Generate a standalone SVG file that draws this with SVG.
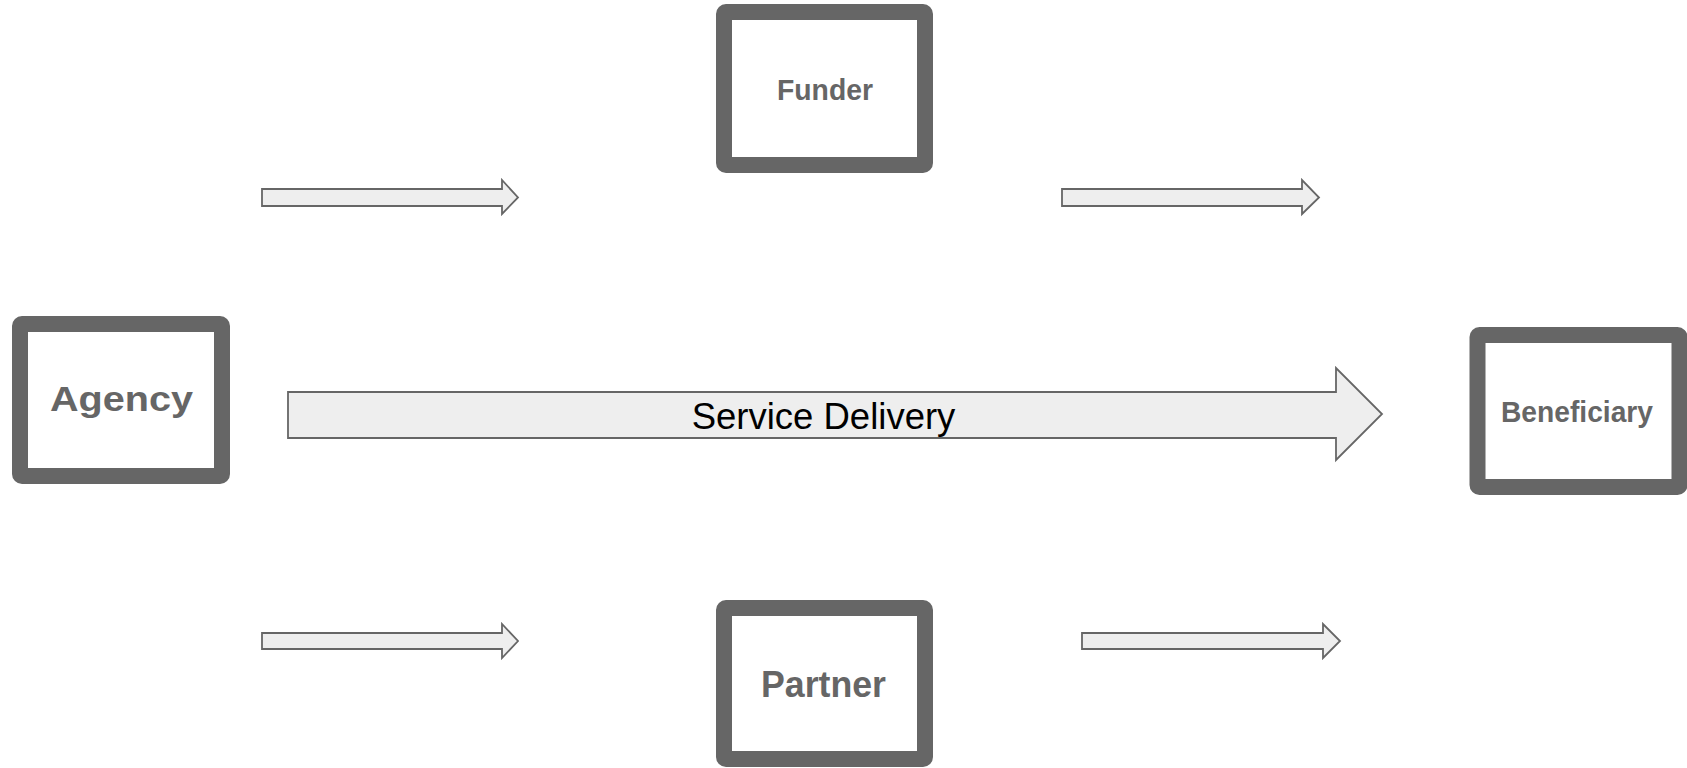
<svg xmlns="http://www.w3.org/2000/svg" width="1687" height="768" viewBox="0 0 1687 768">
<style>
.box{fill:#ffffff;stroke:#666666;stroke-width:16;stroke-linejoin:round}
.lbl{font-family:"Liberation Sans",Arial,sans-serif;font-weight:bold;fill:#666666;text-anchor:middle}
.arr{fill:#eeeeee;stroke:#666666;stroke-width:1.8;stroke-linejoin:miter}
.big{font-family:"Liberation Sans",Arial,sans-serif;fill:#000000;text-anchor:middle;font-size:36.5px}
</style>
<rect width="1687" height="768" fill="#ffffff"/>
<g id="connectors">
<polygon class="arr" points="262,189 502,189 502,180 518,197.5 502,214 502,206 262,206"/>
<polygon class="arr" points="1062,189 1302,189 1302,180 1319,197.5 1302,214 1302,206 1062,206"/>
<polygon class="arr" points="262,633 502,633 502,624 518,641 502,658 502,649 262,649"/>
<polygon class="arr" points="1082,633 1323,633 1323,624 1340,641 1323,658 1323,649 1082,649"/>
<g id="service-delivery">
<polygon class="arr" points="288,392 1336,392 1336,368 1382,414 1336,460 1336,438 288,438"/>
<text class="big" x="823.5" y="429">Service Delivery</text>
</g>
</g>
<g id="funder">
<rect class="box" x="724" y="12" width="201" height="153" rx="2"/>
<text class="lbl" x="825" y="100" font-size="29" textLength="96" lengthAdjust="spacingAndGlyphs">Funder</text>
</g>
<g id="agency">
<rect class="box" x="20" y="324" width="202" height="152" rx="2"/>
<text class="lbl" x="121.5" y="411" font-size="35" textLength="143" lengthAdjust="spacingAndGlyphs">Agency</text>
</g>
<g id="beneficiary">
<rect class="box" x="1477.5" y="335" width="202" height="152" rx="2"/>
<text class="lbl" x="1577" y="421.5" font-size="29" textLength="152" lengthAdjust="spacingAndGlyphs">Beneficiary</text>
</g>
<g id="partner">
<rect class="box" x="724" y="608" width="201" height="151" rx="2"/>
<text class="lbl" x="823.5" y="697" font-size="36" textLength="125" lengthAdjust="spacingAndGlyphs">Partner</text>
</g>
</svg>
